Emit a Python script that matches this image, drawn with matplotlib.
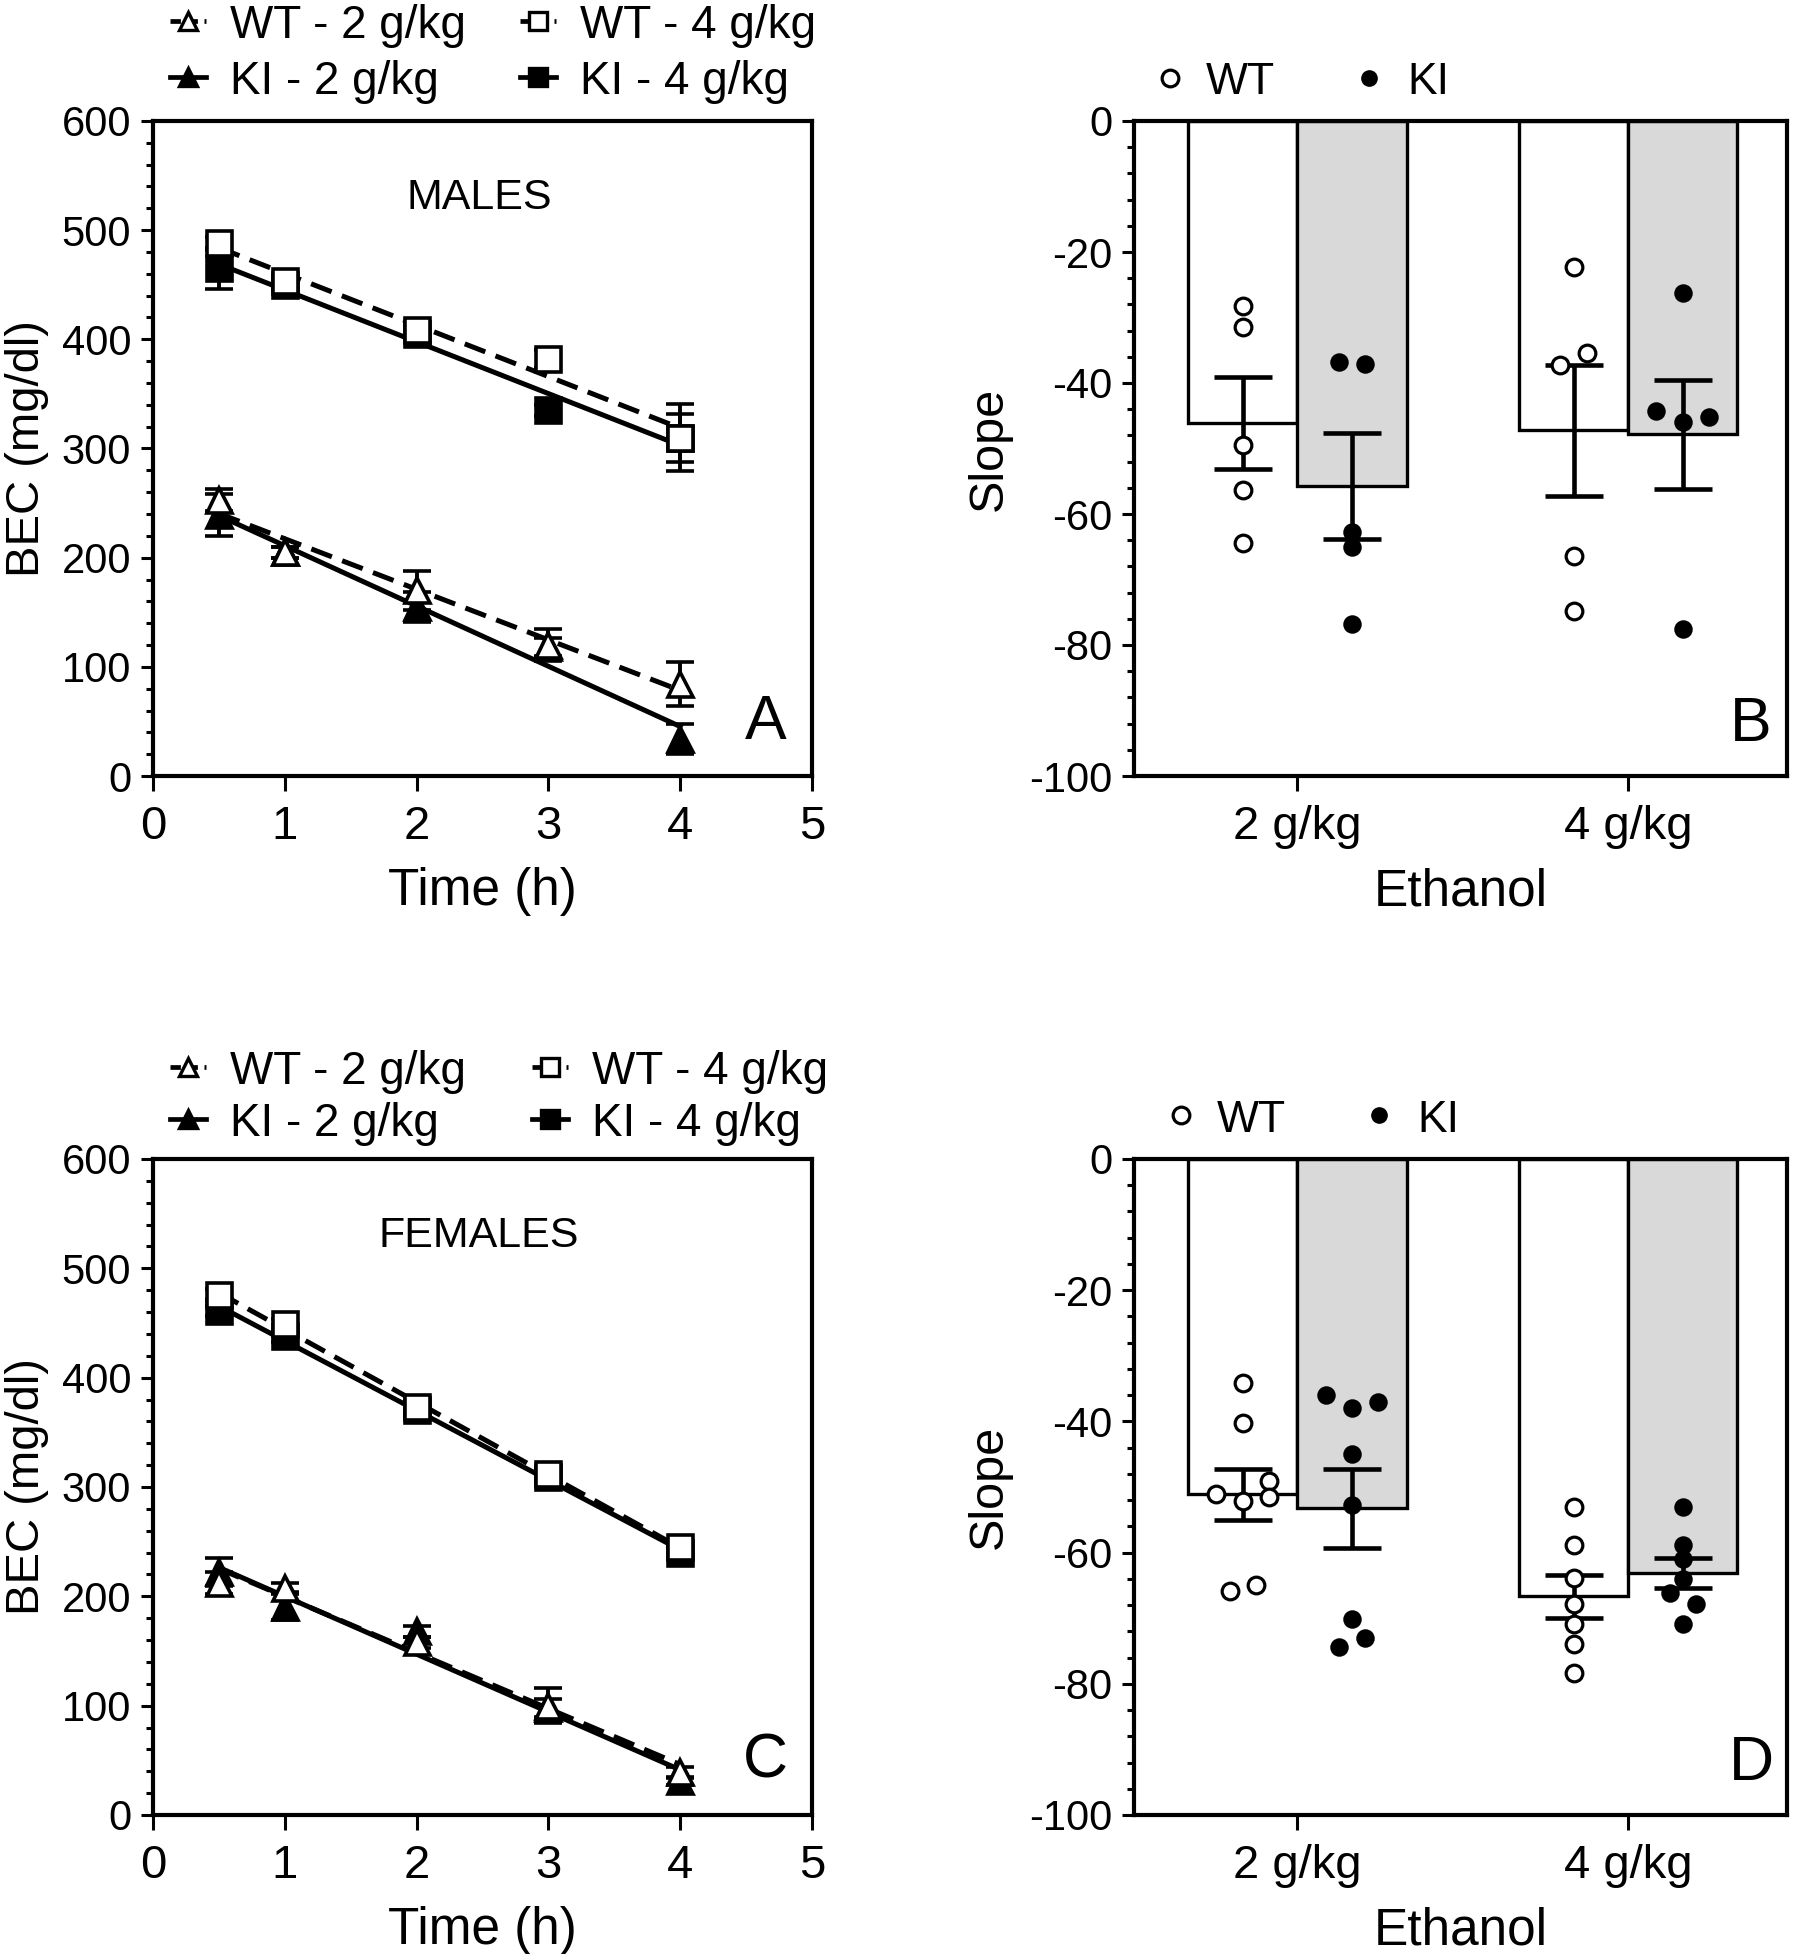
import numpy as np
import matplotlib
matplotlib.use("Agg")
import matplotlib.pyplot as plt
from matplotlib.lines import Line2D
from matplotlib.ticker import MultipleLocator

plt.rcParams["font.family"] = ["Liberation Sans", "DejaVu Sans"]
plt.rcParams["axes.unicode_minus"] = False

# time course of blood ethanol (mg/dl): mean and SEM
time_h = [0.5, 1, 2, 3, 4]

male_wt2 = [253, 205, 170, 120, 84]
male_wt2_sem = [10, 5, 18, 15, 20]
male_ki2 = [239, 205, 155, 118, 34]
male_ki2_sem = [19, 5, 14, 8, 14]
male_wt4 = [488, 453, 409, 382, 310]
male_wt4_sem = [6, 5, 6, 8, 31]
male_ki4 = [465, 450, 405, 335, 310]
male_ki4_sem = [19, 5, 6, 5, 22]

fem_wt2 = [212, 208, 158, 100, 39]
fem_wt2_sem = [10, 4, 5, 16, 5]
fem_ki2 = [222, 190, 168, 98, 31]
fem_ki2_sem = [13, 12, 5, 8, 4]
fem_wt4 = [476, 449, 373, 312, 245]
fem_wt4_sem = [5, 5, 5, 5, 5]
fem_ki4 = [461, 438, 370, 309, 240]
fem_ki4_sem = [5, 5, 5, 5, 5]

# individual elimination slopes
doses = ["2 g/kg", "4 g/kg"]
male_slope_wt2 = [-28.3, -31.5, -49.5, -56.4, -64.5]
male_slope_ki2 = [-36.8, -37.1, -62.8, -65.1, -76.8]
male_slope_wt4 = [-22.3, -37.3, -35.4, -66.4, -74.8]
male_slope_ki4 = [-26.2, -44.2, -45.9, -45.2, -77.6]
fem_slope_wt2 = [-34.1, -40.3, -51.0, -52.1, -49.1, -51.6, -65.9, -65.0]
fem_slope_ki2 = [-36.0, -37.9, -37.1, -45.0, -52.7, -70.1, -74.4, -73.0]
fem_slope_wt4 = [-53.0, -58.9, -63.9, -67.8, -70.9, -74.0, -78.3]
fem_slope_ki4 = [-53.0, -58.8, -61.0, -64.0, -66.1, -67.8, -70.9]

# horizontal scatter of the dots inside each bar
male_dx_wt2 = [0, 0, 0, 0, 0]
male_dx_ki2 = [-0.04, 0.04, 0, 0, 0]
male_dx_wt4 = [0, -0.04, 0.04, 0, 0]
male_dx_ki4 = [0, -0.08, 0, 0.08, 0]
fem_dx_wt2 = [0, 0, -0.08, 0, 0.08, 0.08, -0.04, 0.04]
fem_dx_ki2 = [-0.08, 0, 0.08, 0, 0, 0, -0.04, 0.04]
fem_dx_wt4 = [0, 0, 0, 0, 0, 0, 0]
fem_dx_ki4 = [0, 0, 0, 0, -0.04, 0.04, 0]

W, H = 1794, 1954
fig = plt.figure(figsize=(W / 100, H / 100), dpi=100)


def px_axes(left, top, right, bottom):
    return fig.add_axes([left / W, 1 - bottom / H, (right - left) / W, (bottom - top) / H])


def style_axes(ax):
    for s in ax.spines.values():
        s.set_linewidth(3)
    ax.tick_params(axis="both", which="both", direction="out", width=2.2, colors="black")
    ax.tick_params(axis="y", which="major", length=8.8, pad=7, labelsize=30)
    ax.tick_params(axis="y", which="minor", length=5)
    ax.tick_params(axis="x", which="major", length=11, pad=10, labelsize=34)


def time_panel(ax, wt2, wt2e, ki2, ki2e, wt4, wt4e, ki4, ki4e, title, letter):
    t = np.array(time_h)
    series = [
        (ki2, ki2e, "^", "black", "-"),
        (ki4, ki4e, "s", "black", "-"),
        (wt2, wt2e, "^", "white", "--"),
        (wt4, wt4e, "s", "white", "--"),
    ]
    for y, e, m, fc, ls in series:
        k, b = np.polyfit(t, y, 1)
        ax.plot([t[0], t[-1]], [k * t[0] + b, k * t[-1] + b], color="black",
                lw=3.6, ls=ls, dashes=(4.4, 2.2) if ls == "--" else (None, None), zorder=2)
    for i, (y, e, m, fc, ls) in enumerate(series):
        ax.errorbar(t, y, yerr=e, fmt=m, ms=18, mfc=fc, mec="black", mew=2.6,
                    ecolor="black", elinewidth=2.8, capsize=10, capthick=2.8, zorder=3 + i)
    ax.set_xlim(0, 5)
    ax.set_ylim(0, 600)
    ax.xaxis.set_major_locator(MultipleLocator(1))
    ax.yaxis.set_major_locator(MultipleLocator(100))
    ax.yaxis.set_minor_locator(MultipleLocator(20))
    style_axes(ax)
    ax.set_xlabel("Time (h)", fontsize=37, labelpad=13)
    ax.set_ylabel("BEC (mg/dl)", fontsize=34, labelpad=9)
    ax.text(0.495, 0.882, title, transform=ax.transAxes, fontsize=31, ha="center", va="center")
    ax.text(0.93, 0.082, letter, transform=ax.transAxes, fontsize=45, ha="center", va="center")


def slope_panel(ax, groups, letter):
    w = 0.33
    for i, (wt, ki, dwt, dki) in enumerate(groups):
        for pts, dx, side, face, mfc, ms in [(wt, dwt, -1, "white", "white", 12),
                                             (ki, dki, 1, "#d9d9d9", "black", 11)]:
            pts = np.array(pts)
            mean = pts.mean()
            sem = pts.std(ddof=1) / np.sqrt(len(pts))
            x0 = i if side > 0 else i - w
            ax.bar(x0, mean, width=w, align="edge", color=face, edgecolor="black", lw=2.4, zorder=2)
            xc = x0 + w / 2
            ax.errorbar(xc, mean, yerr=sem, fmt="none", ecolor="black", elinewidth=3.3,
                        capsize=21, capthick=3.3, zorder=3)
            ax.plot(xc + np.array(dx), pts, "o", ms=ms, mfc=mfc, mec="black", mew=2.3, zorder=4)
    ax.set_xlim(-0.494, 1.48)
    ax.set_ylim(-100, 0)
    ax.set_xticks([0, 1])
    ax.set_xticklabels(doses)
    ax.yaxis.set_major_locator(MultipleLocator(20))
    ax.yaxis.set_minor_locator(MultipleLocator(4))
    style_axes(ax)
    ax.set_xlabel("Ethanol", fontsize=37, labelpad=13)
    ax.set_ylabel("Slope", fontsize=35, labelpad=12)
    ax.text(0.945, 0.078, letter, transform=ax.transAxes, fontsize=45, ha="center", va="center")


def legend_item(xm, y, text, marker, fc, ls, base):
    xs = [(xm - 18) / W, (xm + 18) / W]
    ys = [1 - y / H, 1 - y / H]
    fig.add_artist(Line2D(xs, ys, color="black", lw=3.4, ls=ls,
                          dashes=(2.2, 1.4) if ls == "--" else (None, None),
                          transform=fig.transFigure))
    fig.add_artist(Line2D([xm / W], [1 - y / H], marker=marker, ms=13, mfc=fc, mec="black",
                          mew=2.4, ls="none", transform=fig.transFigure))
    fig.text((xm + 42) / W, 1 - base / H, text, fontsize=33, ha="left", va="baseline")


def dot_legend(y, base, x_wt, x_ki):
    fig.add_artist(Line2D([x_wt / W], [1 - y / H], marker="o", ms=12, mfc="white", mec="black",
                          mew=2.3, ls="none", transform=fig.transFigure))
    fig.text((x_wt + 36) / W, 1 - base / H, "WT", fontsize=32, ha="left", va="baseline")
    fig.add_artist(Line2D([x_ki / W], [1 - y / H], marker="o", ms=11, mfc="black", mec="black",
                          ls="none", transform=fig.transFigure))
    fig.text((x_ki + 38) / W, 1 - base / H, "KI", fontsize=32, ha="left", va="baseline")


ax_a = px_axes(153, 121, 812, 776)
time_panel(ax_a, male_wt2, male_wt2_sem, male_ki2, male_ki2_sem,
           male_wt4, male_wt4_sem, male_ki4, male_ki4_sem, "MALES", "A")

ax_b = px_axes(1134, 121, 1787, 776)
slope_panel(ax_b, [(male_slope_wt2, male_slope_ki2, male_dx_wt2, male_dx_ki2),
                   (male_slope_wt4, male_slope_ki4, male_dx_wt4, male_dx_ki4)], "B")

ax_c = px_axes(153, 1159, 812, 1815)
time_panel(ax_c, fem_wt2, fem_wt2_sem, fem_ki2, fem_ki2_sem,
           fem_wt4, fem_wt4_sem, fem_ki4, fem_ki4_sem, "FEMALES", "C")

ax_d = px_axes(1134, 1159, 1787, 1815)
slope_panel(ax_d, [(fem_slope_wt2, fem_slope_ki2, fem_dx_wt2, fem_dx_ki2),
                   (fem_slope_wt4, fem_slope_ki4, fem_dx_wt4, fem_dx_ki4)], "D")

# legends of the time-course panels
legend_item(188, 21, "WT - 2 g/kg", "^", "white", "--", 38)
legend_item(188, 77, "KI - 2 g/kg", "^", "black", "-", 94)
legend_item(538, 21, "WT - 4 g/kg", "s", "white", "--", 38)
legend_item(538, 77, "KI - 4 g/kg", "s", "black", "-", 94)

legend_item(188, 1067, "WT - 2 g/kg", "^", "white", "--", 1084)
legend_item(188, 1119, "KI - 2 g/kg", "^", "black", "-", 1136)
legend_item(550, 1067, "WT - 4 g/kg", "s", "white", "--", 1084)
legend_item(550, 1119, "KI - 4 g/kg", "s", "black", "-", 1136)

dot_legend(78, 94, 1170, 1369)
dot_legend(1115, 1132, 1181, 1379)

fig.savefig("out.png", dpi=100)
